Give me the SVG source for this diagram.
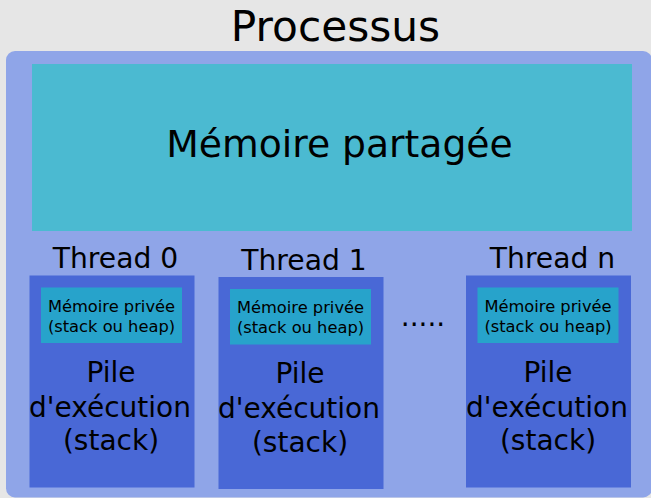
<svg xmlns="http://www.w3.org/2000/svg" width="651" height="498" viewBox="0 0 651 498">
<style>
text{font-family:"DejaVu Sans","Liberation Sans",sans-serif;fill:#000;text-anchor:middle}
.title{font-size:42.3px}
.shared-t{font-size:37.7px}
.th{font-size:28.2px}
.priv{fill:#27a3cb}
.privt{font-size:16.3px}
.pile{font-size:28px}
.thread{fill:#4968d6}
</style>
<rect x="0" y="0" width="651" height="498" fill="#e6e6e6"/>
<g id="processus">
<rect x="6" y="51" width="646" height="446.5" rx="9" fill="#8fa5e8"/>
<text class="title" x="335.5" y="40.5">Processus</text>
</g>
<g id="shared-memory">
<rect x="32" y="64" width="600" height="167" fill="#4bbad1"/>
<text class="shared-t" x="339.5" y="157">Mémoire partagée</text>
</g>
<g id="thread0">
<text class="th" x="115.5" y="267.5">Thread 0</text>
<rect class="thread" x="29.5" y="275.5" width="165" height="212"/>
<rect class="priv" x="41" y="287.5" width="141" height="55.5"/>
<text class="privt" x="111.5" y="311.5">Mémoire privée</text>
<text class="privt" x="111.5" y="331.5">(stack ou heap)</text>
<text class="pile" x="111" y="381.7">Pile</text>
<text class="pile" x="110" y="416.7">d'exécution</text>
<text class="pile" x="111" y="450">(stack)</text>
</g>
<g id="thread1">
<text class="th" x="304" y="270">Thread 1</text>
<rect class="thread" x="218.5" y="277" width="165" height="212"/>
<rect class="priv" x="230" y="289" width="141" height="55.5"/>
<text class="privt" x="300.5" y="313">Mémoire privée</text>
<text class="privt" x="300.5" y="333">(stack ou heap)</text>
<text class="pile" x="300" y="383.2">Pile</text>
<text class="pile" x="299" y="418.2">d'exécution</text>
<text class="pile" x="300" y="451.5">(stack)</text>
</g>
<g id="dots">
<text class="pile" x="423" y="326">.....</text>
</g>
<g id="threadn">
<text class="th" x="552.5" y="267.5">Thread n</text>
<rect class="thread" x="466" y="275.5" width="165" height="212"/>
<rect class="priv" x="477.5" y="287.5" width="141" height="55.5"/>
<text class="privt" x="548" y="311.5">Mémoire privée</text>
<text class="privt" x="548" y="331.5">(stack ou heap)</text>
<text class="pile" x="548" y="381.7">Pile</text>
<text class="pile" x="547" y="416.7">d'exécution</text>
<text class="pile" x="548" y="450">(stack)</text>
</g>
<g id="connectors"></g>
</svg>
